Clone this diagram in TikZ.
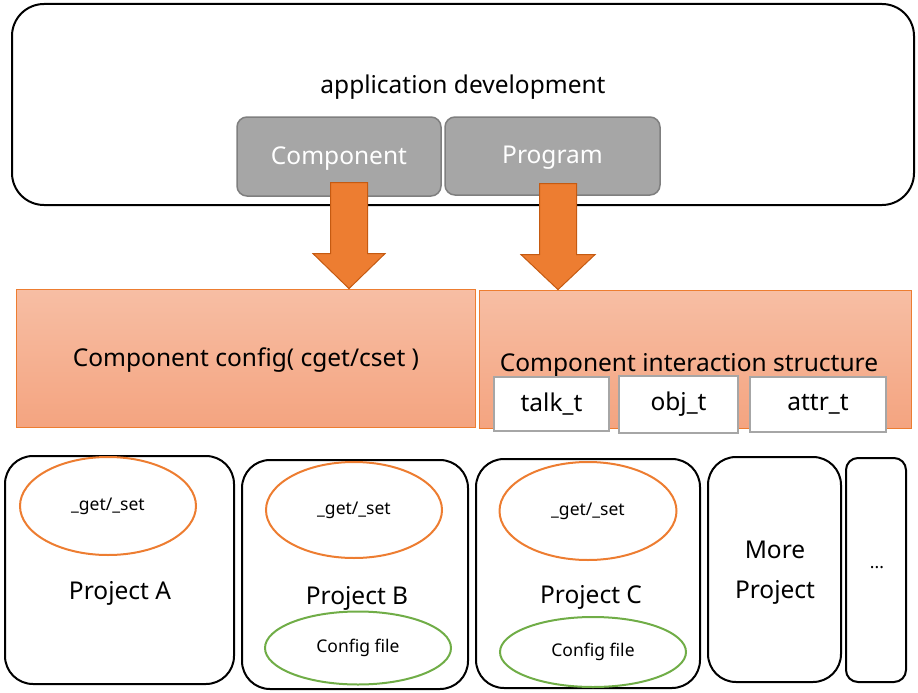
\documentclass[tikz,border=0pt]{standalone}
\usepackage{fontspec}
\setmainfont{Noto Sans}
\usetikzlibrary{positioning, calc, shapes.geometric}
\definecolor{accent}{RGB}{237,125,49}
\definecolor{accentdark}{RGB}{197,90,17}
\definecolor{boxgray}{RGB}{166,166,166}
\definecolor{boxgrayline}{RGB}{127,127,127}
\definecolor{cfgtop}{RGB}{247,190,164}
\definecolor{cfgbot}{RGB}{244,164,128}
\definecolor{leaf}{RGB}{112,173,71}

\begin{document}
\begin{tikzpicture}[
  x=1pt, y=-1pt,
  every node/.style={font=\fontsize{24.5}{28}\selectfont, inner sep=0pt},
  outer/.style={draw, line width=2pt, rounded corners=32pt},
  module/.style={draw=boxgrayline, line width=1.5pt, fill=boxgray, rounded corners=10pt,
                 text=white},
  layer/.style={draw=accent, line width=0.8pt, top color=cfgtop, bottom color=cfgbot},
  tag/.style={draw=boxgray, line width=2.5pt, fill=white},
  project/.style={draw, line width=2pt, rounded corners=28pt},
  fatarrow/.style={draw=accentdark, line width=1pt, fill=accent},
  getset/.style={draw=accent, line width=2pt, ellipse, font=\fontsize{17.5}{20}\selectfont},
  cfgfile/.style={draw=leaf, line width=2pt, ellipse, font=\fontsize{17.5}{20}\selectfont}
]
\useasboundingbox (0,0) rectangle (918,693);

% ---- Application layer ----
\draw[outer] (12,4) rectangle (914,205);
\node (app) at (463,87) {application development};
\node[module, minimum width=204pt, minimum height=79pt] (comp) at (339,156.5) {};
\node[module, minimum width=215pt, minimum height=78pt] (prog) at (552.5,156) {};
\node[text=white] (compname) at (339,159) {Component};
\node[text=white] (progname) at (552.5,158) {Program};

% ---- Middle layer ----
\node[layer, minimum width=459pt, minimum height=138pt] (cfg) at (245.5,358) {};
\node[layer, minimum width=432pt, minimum height=138pt] (inter) at (695,359) {};
\node (cfgname) at (246,360) {Component config( cget/cset )};
\node (intername) at (689,365) {Component interaction structure};
\node[tag, minimum width=115pt, minimum height=54pt] (talk) at (551.5,404) {talk\_t};
\node[tag, minimum width=119pt, minimum height=57pt] (obj) at (678.5,404.5) {obj\_t};
\node[tag, minimum width=136pt, minimum height=55pt] (attr) at (818,404.5) {attr\_t};

% ---- Block arrows ----
\coordinate (tip1) at (cfg.north -| 349,0);
\coordinate (tip2) at (inter.north -| 558,0);
\draw[fatarrow] (tip1) -- ++(-36,-35) -- ++(17.5,0) -- ++(0,-71) -- ++(37,0)
  -- ++(0,71) -- ++(17.5,0) -- cycle;
\draw[fatarrow] (tip2) -- ++(-37,-35) -- ++(18.5,0) -- ++(0,-71) -- ++(37,0)
  -- ++(0,71) -- ++(18.5,0) -- cycle;

% ---- Projects ----
\draw[project] (5,456) rectangle (234,684);
\draw[project] (242,460) rectangle (468,689);
\draw[project] (476,459) rectangle (700,688);
\draw[project] (708,457) rectangle (841,682);
\draw[project, rounded corners=12pt] (846,458) rectangle (906,682);

\node[getset, minimum width=176pt, minimum height=98pt] (gsA) at (108,506) {\_get/\_set};
\node[getset, minimum width=176pt, minimum height=96pt] (gsB) at (354,510) {\_get/\_set};
\node[getset, minimum width=177pt, minimum height=98pt] (gsC) at (588,511) {\_get/\_set};
\node[cfgfile, minimum width=186pt, minimum height=73pt] (cfB) at (358,648) {Config file};
\node[cfgfile, minimum width=186pt, minimum height=70pt] (cfC) at (593,652) {Config file};

\node (pA) at (120,593) {Project A};
\node (pB) at (357,598) {Project B};
\node (pC) at (591,597) {Project C};
\node[align=center, font=\fontsize{24.5}{40}\selectfont] (more) at (775,573) {More\\Project};
\node[font=\fontsize{17.5}{20}\selectfont] (dots) at (877,568) {...};

\end{tikzpicture}
\end{document}
